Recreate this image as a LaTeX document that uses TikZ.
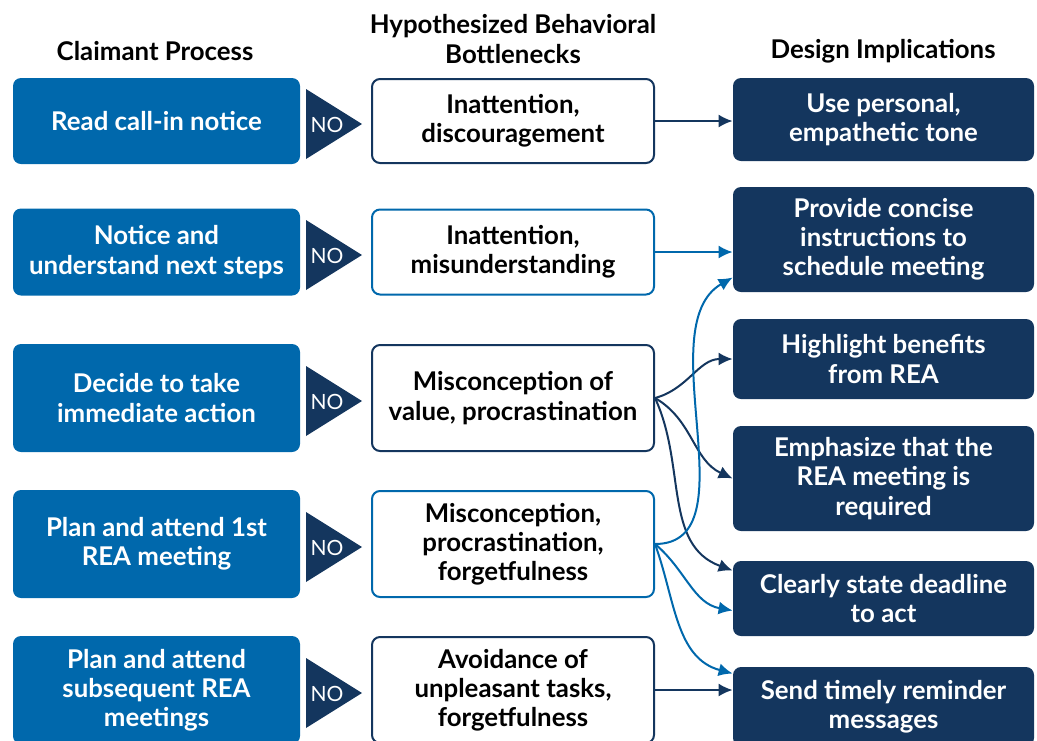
\documentclass[tikz,border=0pt]{standalone}
\usepackage{fontspec}
\setmainfont{Lato}
\usetikzlibrary{arrows.meta}

\definecolor{procblue}{RGB}{0,104,172}
\definecolor{navy}{RGB}{20,54,94}

\begin{document}
\begin{tikzpicture}[x=0.5pt, y=-0.5pt, font=\bfseries\fontsize{12.9}{14.6}\selectfont,
    proc/.style={fill=procblue, text=white, rounded corners=4pt, minimum width=143.5pt, align=center},
    bneck/.style={draw=#1, line width=1pt, fill=white, rounded corners=4pt, minimum width=141pt, align=center},
    impl/.style={fill=navy, text=white, rounded corners=4pt, minimum width=150.5pt, align=center},
    head/.style={align=center, text=black},
    link/.style={draw=#1, line width=1pt, -{Latex[length=7pt,width=6.5pt]}}]

   \useasboundingbox (0,0) rectangle (1037,740);

   \node[head] (hp) at (155,51) {Claimant Process};
   \node[head] (hb) at (513,39) {Hypothesized Behavioral\\Bottlenecks};
   \node[head] (hd) at (883,51) {Design Implications};

   \foreach \i/\y/\h/\c/\p/\b in {
       1/121/86/navy/{Read call-in notice}/{Inattention,\\discouragement},
       2/252/87/procblue/{Notice and\\understand next steps}/{Inattention,\\misunderstanding},
       3/398/108/navy/{Decide to take\\immediate action}/{Misconception of\\value, procrastination},
       4/544/108/procblue/{Plan and attend 1st\\REA meeting}/{Misconception,\\procrastination,\\forgetfulness},
       5/690/108/navy/{Plan and attend\\subsequent REA\\meetings}/{Avoidance of\\unpleasant tasks,\\forgetfulness}}
   {
     \node[proc, minimum height=\h*0.5pt] (p\i) at (156.5,\y) {\p};
     \fill[navy] (306,\y-32) -- (362,\y+3) -- (306,\y+38) -- cycle;
     \node[text=white, font=\fontsize{10.5}{12}\selectfont] (n\i) at (327,\y+4) {NO};
     \node[bneck=\c, minimum height=\h*0.5pt-1pt] (b\i) at (513,\y) {\b};
   }

   \foreach \i/\y/\h/\t in {
       1/119.5/83/{Use personal,\\empathetic tone},
       2/239.5/105/{Provide concise\\instructions to\\schedule meeting},
       3/359/80/{Highlight benefits\\from REA},
       4/478.5/105/{Emphasize that the\\REA meeting is\\required},
       5/598.5/75/{Clearly state deadline\\to act},
       6/706.5/79/{Send timely reminder\\messages}}
     \node[impl, minimum height=\h*0.5pt] (d\i) at (883.5,\y) {\t};

   \draw[link=navy] (b1.east) -- (b1.east -| d1.west);
   \draw[link=procblue] (b2.east) -- (b2.east -| d2.west);
   \draw[link=navy] (b3.east) to[out=15, in=180] (d3.west);
   \draw[link=navy] (b3.east) to[out=-30, in=155] (d4.west);
   \draw[link=navy] (b3.east) to[out=-65, in=160] ([yshift=14pt]d5.west);
   \draw[link=procblue] (b4.east) to[out=0, in=210, looseness=0.9] ([yshift=-19pt]d2.west);
   \draw[link=procblue] (b4.east) to[out=-40, in=170] ([yshift=-6pt]d5.west);
   \draw[link=procblue] (b4.east) to[out=-70, in=165] ([yshift=16.5pt]d6.west);
   \draw[link=navy] (b5.east) -- (b5.east -| d6.west);

\end{tikzpicture}
\end{document}
